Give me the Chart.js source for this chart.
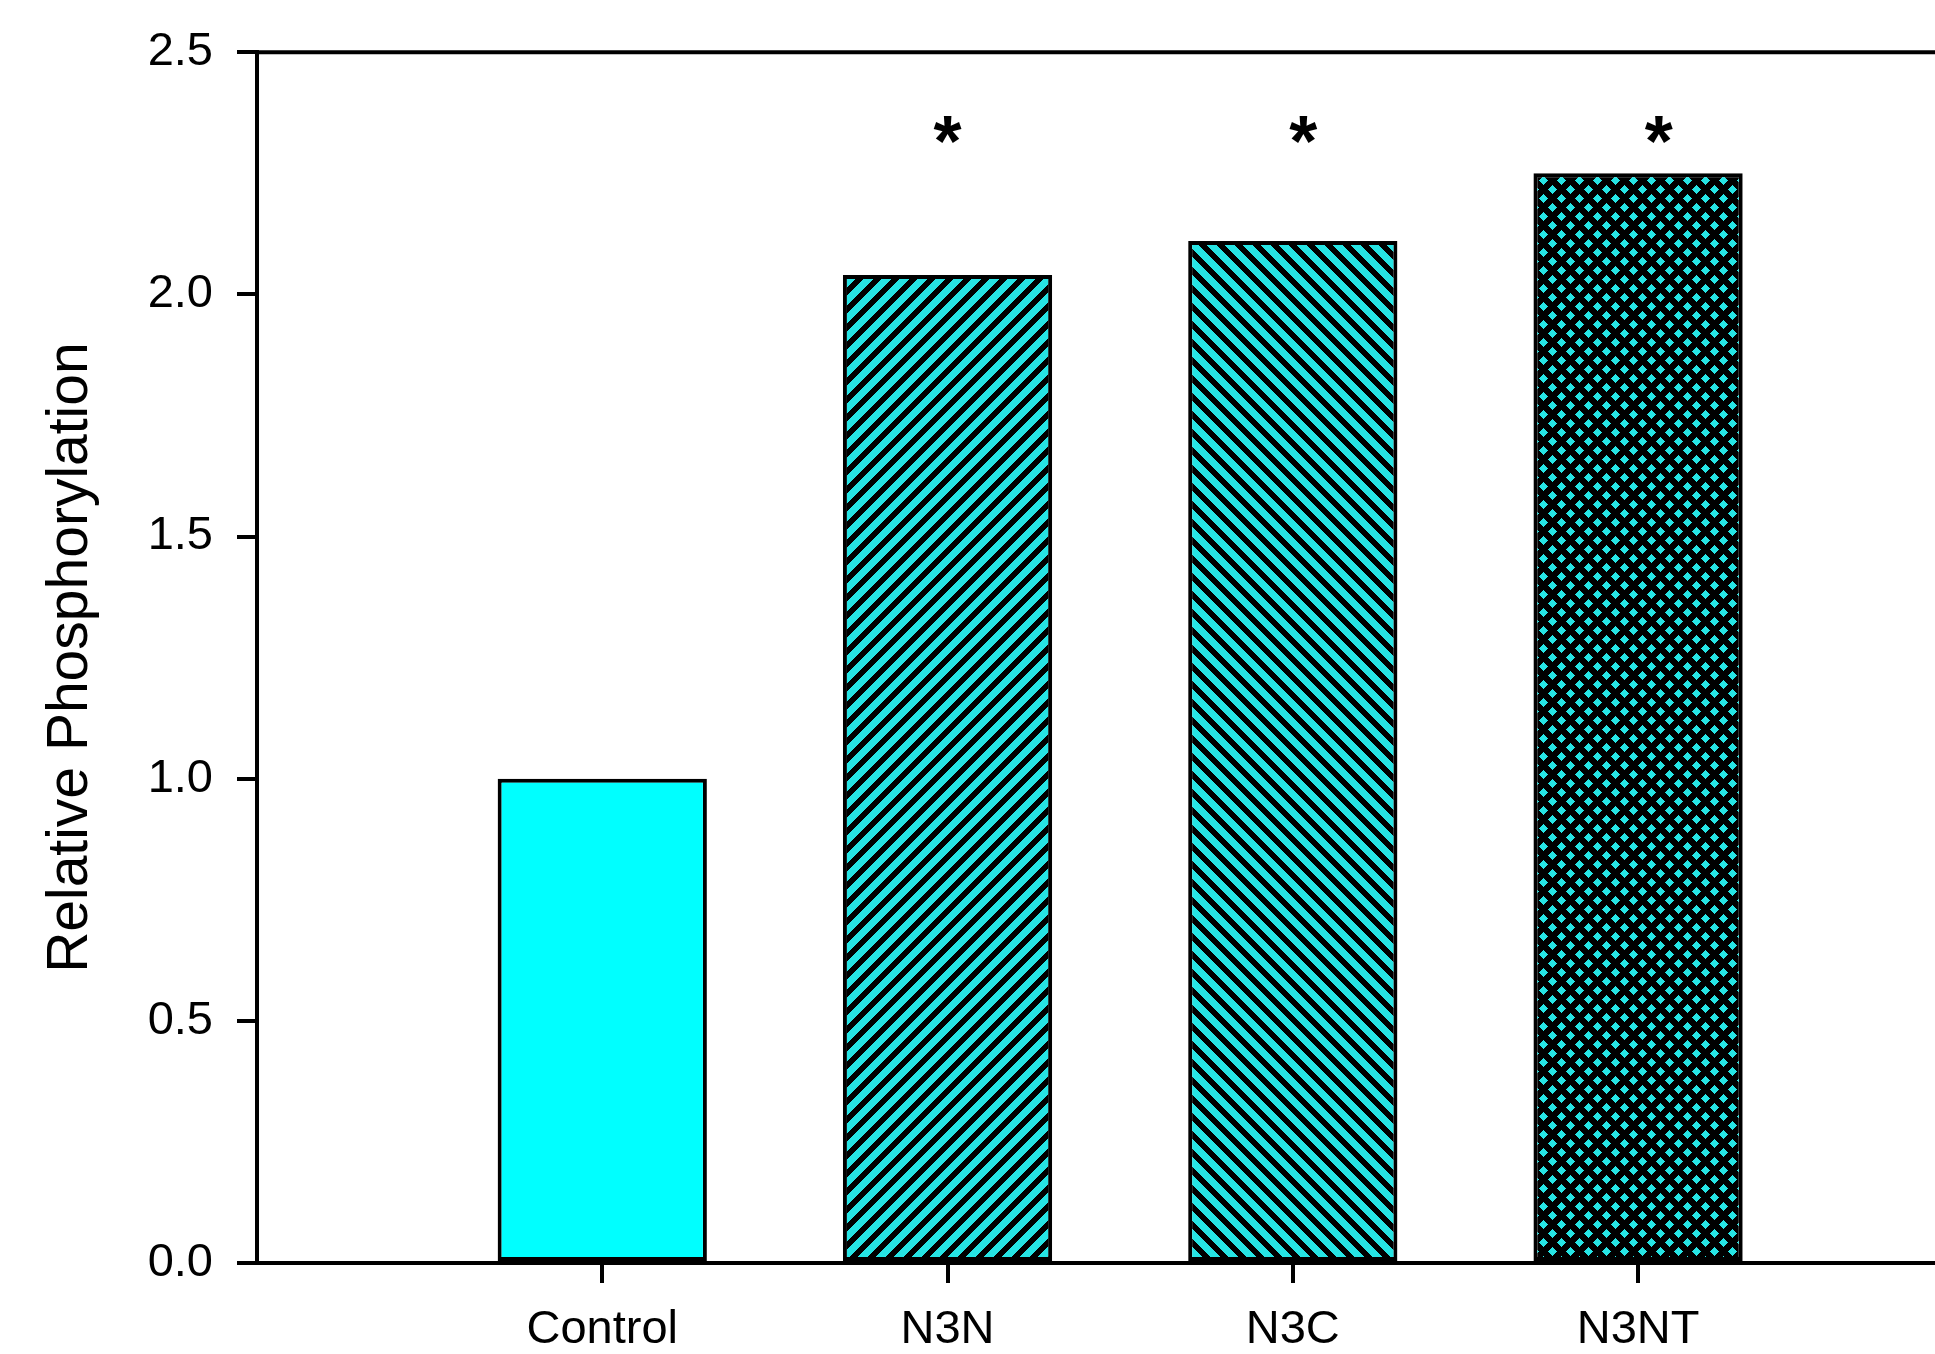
<!DOCTYPE html>
<html lang="en">
<head>
  <meta charset="UTF-8">
  <title>Relative Phosphorylation</title>
  <script src="https://cdn.jsdelivr.net/npm/chart.js"></script>
  <style>
    html, body {
      margin: 0;
      padding: 0;
      background: #fff;
    }
    .chart-container {
      position: relative;
      width: 1935px;
      height: 1354px;
    }
  </style>
</head>
<body>
  <div class="chart-container">
    <canvas id="barChart"></canvas>
  </div>

  <script>
    const categories = ['Control', 'N3N', 'N3C', 'N3NT'];
    const positions = [1, 2, 3, 4];
    const values = [1.0, 2.04, 2.11, 2.25];
    const yTicks = [0, 0.5, 1.0, 1.5, 2.0, 2.5];
    // significance marks (data units)
    const starX = [2.0, 3.03, 4.06];
    const starY = [2.34, 2.34, 2.34];

    const fontFamily = '"Liberation Sans", Arial, sans-serif';
    Chart.defaults.font.family = fontFamily;
    Chart.defaults.color = '#000';

    const canvas = document.getElementById('barChart');
    const ctx = canvas.getContext('2d');

    // pixel-built hatch tiles so the pattern repeats without seams
    function makeHatch(kind) {
      const s = 18;
      const w = kind === 'cross' ? 9 : 8;
      const tile = document.createElement('canvas');
      tile.width = s;
      tile.height = s;
      const g = tile.getContext('2d');
      const img = g.createImageData(s, s);
      for (let j = 0; j < s; j++) {
        for (let i = 0; i < s; i++) {
          const fwd = (i + j) % s < w;
          const back = ((i - j) % s + s) % s < w;
          let dark = false;
          if (kind === 'fwd') dark = fwd;
          if (kind === 'back') dark = back;
          if (kind === 'cross') dark = fwd || back;
          const o = (j * s + i) * 4;
          img.data[o] = dark ? 0 : 38;
          img.data[o + 1] = dark ? 0 : 228;
          img.data[o + 2] = dark ? 0 : 228;
          img.data[o + 3] = 255;
        }
      }
      g.putImageData(img, 0, 0);
      return ctx.createPattern(tile, 'repeat');
    }

    const fills = ['#00ffff', makeHatch('fwd'), makeHatch('back'), makeHatch('cross')];

    const framePlugin = {
      id: 'frame',
      afterDraw(chart) {
        const { ctx, chartArea: a } = chart;
        ctx.save();
        ctx.strokeStyle = '#000';
        ctx.lineWidth = 4;
        ctx.beginPath();
        ctx.moveTo(a.left, a.top);
        ctx.lineTo(a.right, a.top);
        ctx.stroke();
        ctx.restore();
      }
    };

    const starPlugin = {
      id: 'stars',
      afterDatasetsDraw(chart) {
        const { ctx, scales: { x, y } } = chart;
        ctx.save();
        ctx.font = 'bold 72px ' + fontFamily;
        ctx.fillStyle = '#000';
        ctx.textAlign = 'left';
        ctx.textBaseline = 'alphabetic';
        const m = ctx.measureText('*');
        starX.forEach((sx, i) => {
          const cx = x.getPixelForValue(sx);
          const cy = y.getPixelForValue(starY[i]);
          const px = cx - (m.actualBoundingBoxRight - m.actualBoundingBoxLeft) / 2;
          const py = cy + (m.actualBoundingBoxAscent - m.actualBoundingBoxDescent) / 2;
          ctx.fillText('*', px, py);
        });
        ctx.restore();
      }
    };

    new Chart(ctx, {
      type: 'bar',
      data: {
        datasets: [{
          data: positions.map((p, i) => ({ x: p, y: values[i] })),
          backgroundColor: fills,
          borderColor: '#000',
          borderWidth: 4,
          borderSkipped: false,
          categoryPercentage: 0.606,
          barPercentage: 1.0
        }]
      },
      options: {
        responsive: true,
        maintainAspectRatio: false,
        animation: false,
        layout: { padding: { top: 52, right: 0, left: 0, bottom: 0 } },
        plugins: {
          legend: { display: false },
          tooltip: { enabled: false }
        },
        scales: {
          x: {
            type: 'linear',
            offset: false,
            min: 0,
            max: 4.86,
            afterFit: s => { s.height = 91; },
            afterBuildTicks: s => { s.ticks = positions.map(v => ({ value: v })); },
            ticks: {
              callback: (v, i) => categories[i],
              color: '#000',
              font: { size: 47 },
              padding: 19,
              maxRotation: 0,
              autoSkip: false
            },
            grid: { offset: false, drawOnChartArea: false, drawTicks: true, tickLength: 20, color: '#000', lineWidth: 4 },
            border: { display: true, color: '#000', width: 4 }
          },
          y: {
            min: 0,
            max: 2.5,
            afterFit: s => { s.width = 257; },
            afterBuildTicks: s => { s.ticks = yTicks.map(v => ({ value: v })); },
            ticks: {
              callback: v => Number(v).toFixed(1),
              color: '#000',
              font: { size: 47 },
              padding: 24
            },
            grid: { drawOnChartArea: false, drawTicks: true, tickLength: 20, color: '#000', lineWidth: 4 },
            border: { display: true, color: '#000', width: 4 },
            title: {
              display: true,
              text: 'Relative Phosphorylation',
              color: '#000',
              font: { size: 57 },
              padding: { top: 37, bottom: 0 }
            }
          }
        }
      },
      plugins: [framePlugin, starPlugin]
    });
  </script>
</body>
</html>
